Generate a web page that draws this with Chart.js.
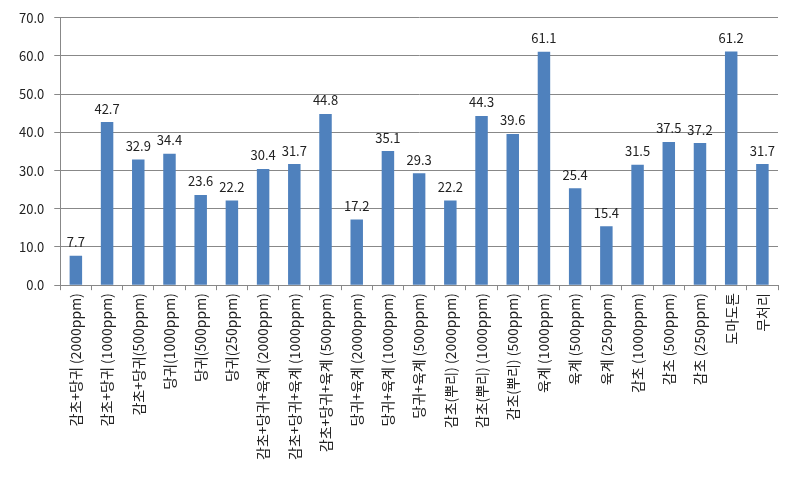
<!DOCTYPE html>
<html>
<head>
<meta charset="utf-8">
<script src="https://cdn.jsdelivr.net/npm/chart.js@4"></script>
<style>
  html, body { margin: 0; padding: 0; background: #fff; }
  #wrap { width: 798px; height: 482px; }
</style>
</head>
<body>
<div id="wrap"><canvas id="chart"></canvas></div>
<script>
const categories = [
  '감초+당귀 (2000ppm)', '감초+당귀 (1000ppm)', '감초+당귀(500ppm)',
  '당귀(1000ppm)', '당귀(500ppm)', '당귀(250ppm)',
  '감초+당귀+육계 (2000ppm)', '감초+당귀+육계 (1000ppm)', '감초+당귀+육계 (500ppm)',
  '당귀+육계 (2000ppm)', '당귀+육계 (1000ppm)', '당귀+육계 (500ppm)',
  '감초(뿌리) (2000ppm)', '감초(뿌리) (1000ppm)', '감초(뿌리) (500ppm)',
  '육계 (1000ppm)', '육계 (500ppm)', '육계 (250ppm)',
  '감초 (1000ppm)', '감초 (500ppm)', '감초 (250ppm)',
  '도마도톤', '무처리'
];
const values = [7.7, 42.7, 32.9, 34.4, 23.6, 22.2, 30.4, 31.7, 44.8, 17.2, 35.1, 29.3,
  22.2, 44.3, 39.6, 61.1, 25.4, 15.4, 31.5, 37.5, 37.2, 61.2, 31.7];
const yTicks = [0, 10, 20, 30, 40, 50, 60, 70];

const FONT = '"Noto Sans CJK KR", "Noto Sans", sans-serif';

// value labels above each bar
const barLabels = {
  id: 'barLabels',
  afterDatasetsDraw(chart) {
    const ctx = chart.ctx;
    const meta = chart.getDatasetMeta(0);
    ctx.save();
    ctx.font = '13px ' + FONT;
    ctx.fillStyle = '#222';
    ctx.textAlign = 'center';
    ctx.textBaseline = 'bottom';
    meta.data.forEach((bar, i) => {
      ctx.fillText(values[i].toFixed(1), bar.x, bar.y - 7);
    });
    ctx.restore();
  }
};

new Chart(document.getElementById('chart'), {
  type: 'bar',
  data: {
    labels: categories,
    datasets: [{
      data: values,
      backgroundColor: '#4F81BD',
      barPercentage: 0.4,
      categoryPercentage: 1.0
    }]
  },
  options: {
    responsive: true,
    maintainAspectRatio: false,
    animation: false,
    layout: { padding: { top: 14, right: 20, left: 9, bottom: 19 } },
    plugins: { legend: { display: false }, tooltip: { enabled: false } },
    scales: {
      x: {
        grid: { display: true, drawOnChartArea: false, offset: true, color: '#888', tickLength: 5 },
        border: { color: '#888' },
        ticks: {
          color: '#222',
          font: { family: FONT, size: 14 },
          minRotation: 90, maxRotation: 90,
          autoSkip: false, padding: 3
        }
      },
      y: {
        min: 0, max: 70,
        afterBuildTicks(axis) { axis.ticks = yTicks.map(v => ({ value: v })); },
        grid: { color: '#888', tickLength: 6 },
        border: { color: '#888' },
        ticks: {
          color: '#222',
          font: { family: FONT, size: 13 },
          padding: 10,
          callback: v => v.toFixed(1)
        }
      }
    }
  },
  plugins: [barLabels]
});
</script>
</body>
</html>
